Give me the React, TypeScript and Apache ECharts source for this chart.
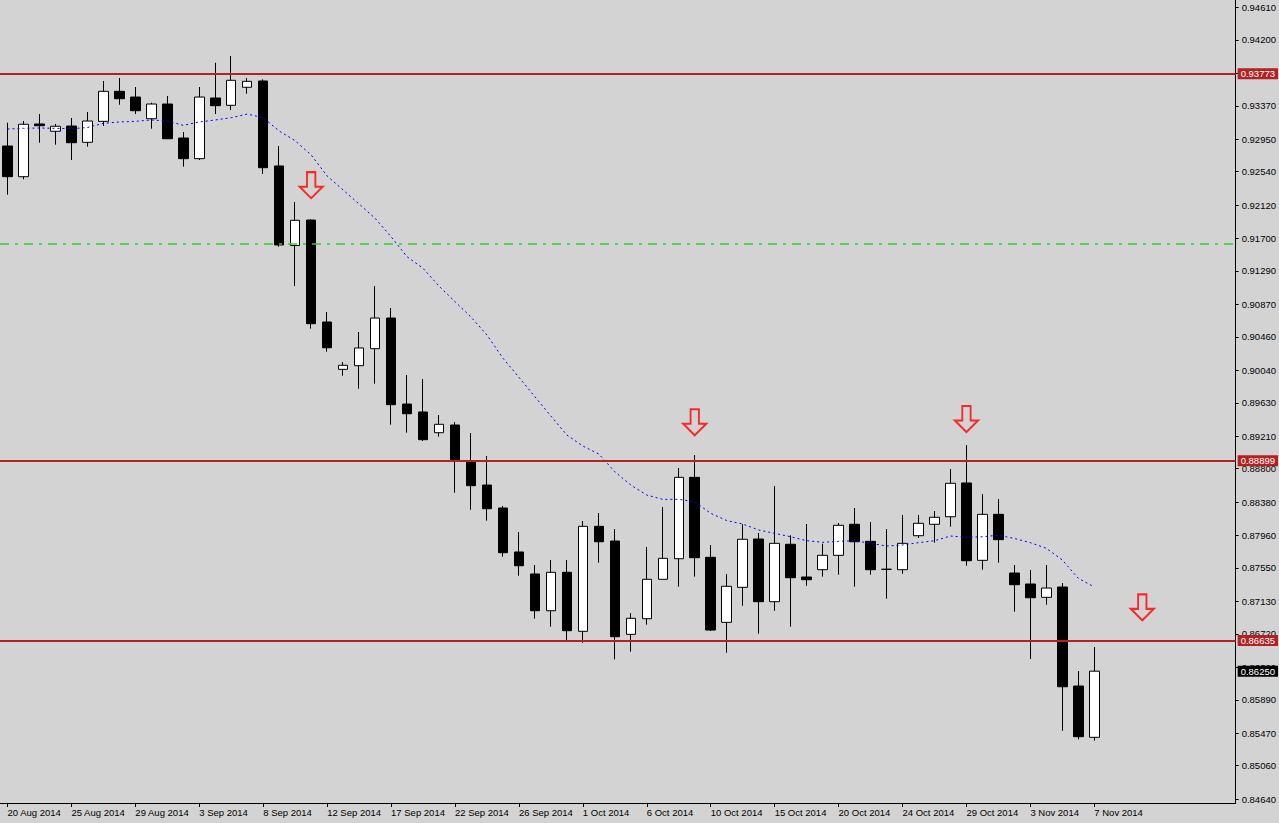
import React, { useEffect, useRef } from "react";
import * as echarts from "echarts";

const dates = [
  "20 Aug 2014","21 Aug 2014","22 Aug 2014","24 Aug 2014","25 Aug 2014","26 Aug 2014","27 Aug 2014","28 Aug 2014","29 Aug 2014","31 Aug 2014",
  "1 Sep 2014","2 Sep 2014","3 Sep 2014","4 Sep 2014","5 Sep 2014","7 Sep 2014","8 Sep 2014","9 Sep 2014","10 Sep 2014","11 Sep 2014",
  "12 Sep 2014","14 Sep 2014","15 Sep 2014","16 Sep 2014","17 Sep 2014","18 Sep 2014","19 Sep 2014","21 Sep 2014","22 Sep 2014","23 Sep 2014",
  "24 Sep 2014","25 Sep 2014","26 Sep 2014","28 Sep 2014","29 Sep 2014","30 Sep 2014","1 Oct 2014","2 Oct 2014","3 Oct 2014","5 Oct 2014",
  "6 Oct 2014","7 Oct 2014","8 Oct 2014","9 Oct 2014","10 Oct 2014","12 Oct 2014","13 Oct 2014","14 Oct 2014","15 Oct 2014","16 Oct 2014",
  "17 Oct 2014","19 Oct 2014","20 Oct 2014","21 Oct 2014","22 Oct 2014","23 Oct 2014","24 Oct 2014","26 Oct 2014","27 Oct 2014","28 Oct 2014",
  "29 Oct 2014","30 Oct 2014","31 Oct 2014","2 Nov 2014","3 Nov 2014","4 Nov 2014","5 Nov 2014","6 Nov 2014","7 Nov 2014",
];

const opens = [
  0.92863,0.92477,0.93141,0.93049,0.93115,0.92910,0.93174,0.93552,0.93480,0.93207,
  0.93392,0.92964,0.92704,0.93468,0.93376,0.93603,0.93682,0.92612,0.91610,0.91931,
  0.90647,0.90051,0.90097,0.90311,0.90697,0.89614,0.89514,0.89253,0.89350,0.88897,
  0.88594,0.88305,0.87751,0.87474,0.87011,0.87495,0.86752,0.88074,0.87889,0.86714,
  0.86911,0.87407,0.87666,0.88691,0.87684,0.86865,0.87306,0.87914,0.87125,0.87848,
  0.87436,0.87528,0.87709,0.88100,0.87885,0.87533,0.87528,0.87956,0.88100,0.88195,
  0.88620,0.87646,0.88225,0.87486,0.87348,0.87180,0.87310,0.86063,0.85417,
];

const closes = [
  0.92477,0.93137,0.93119,0.93112,0.92905,0.93178,0.93552,0.93459,0.93308,0.93392,
  0.92955,0.92704,0.93480,0.93371,0.93691,0.93678,0.92590,0.91617,0.91928,0.90626,
  0.90323,0.90102,0.90320,0.90697,0.89606,0.89492,0.89165,0.89359,0.88900,0.88586,
  0.88296,0.87742,0.87578,0.87011,0.87495,0.86760,0.88074,0.87880,0.86684,0.86916,
  0.87407,0.87671,0.88691,0.87679,0.86768,0.87319,0.87911,0.87125,0.87860,0.87427,
  0.87402,0.87709,0.88087,0.87880,0.87528,0.87533,0.87860,0.88112,0.88188,0.88616,
  0.87641,0.88225,0.87906,0.87339,0.87175,0.87297,0.86054,0.85425,0.86250,
];

const highs = [
  0.93157,0.93178,0.93266,0.93141,0.93216,0.93292,0.93682,0.93720,0.93606,0.93409,
  0.93493,0.93040,0.93606,0.93912,0.93997,0.93720,0.93703,0.92863,0.92158,0.91940,
  0.90773,0.90143,0.90521,0.91100,0.90823,0.89980,0.89929,0.89476,0.89388,0.89249,
  0.88960,0.88330,0.88002,0.87587,0.87650,0.87650,0.88141,0.88242,0.88040,0.86982,
  0.87814,0.88317,0.88808,0.88972,0.87839,0.87474,0.88100,0.87990,0.88582,0.87961,
  0.88103,0.87855,0.88116,0.88305,0.88128,0.88040,0.88217,0.88217,0.88267,0.88796,
  0.89098,0.88481,0.88418,0.87587,0.87524,0.87587,0.87360,0.86252,0.86554,
];

const lows = [
  0.92250,0.92444,0.92905,0.92880,0.92687,0.92855,0.93115,0.93383,0.93266,0.93081,
  0.92950,0.92603,0.92687,0.93266,0.93317,0.93522,0.92511,0.91595,0.91100,0.90563,
  0.90273,0.89971,0.89807,0.89870,0.89354,0.89253,0.89149,0.89203,0.88497,0.88283,
  0.88145,0.87691,0.87452,0.86911,0.86810,0.86634,0.86608,0.87616,0.86399,0.86495,
  0.86835,0.87407,0.87314,0.87440,0.86756,0.86483,0.87074,0.86722,0.87011,0.86810,
  0.87326,0.87440,0.87465,0.87314,0.87465,0.87163,0.87477,0.87927,0.87868,0.88069,
  0.87578,0.87528,0.87616,0.86999,0.86403,0.87087,0.85500,0.85392,0.85374,
];

const maValues = [
  0.93077,0.93086,0.93090,0.93086,0.93081,0.93096,0.93149,0.93166,0.93174,0.93191,
  0.93178,0.93124,0.93166,0.93191,0.93220,0.93266,0.93220,0.93052,0.92930,0.92750,
  0.92486,0.92309,0.92133,0.91953,0.91721,0.91469,0.91323,0.91100,0.90903,0.90710,
  0.90483,0.90190,0.89951,0.89706,0.89463,0.89224,0.89085,0.88985,0.88762,0.88594,
  0.88468,0.88414,0.88414,0.88384,0.88238,0.88147,0.88103,0.88028,0.87986,0.87943,
  0.87893,0.87873,0.87885,0.87893,0.87860,0.87826,0.87839,0.87868,0.87893,0.87952,
  0.87936,0.87943,0.87962,0.87921,0.87868,0.87797,0.87650,0.87419,0.87310,
];

const xTickIdx = [0, 4, 8, 12, 16, 20, 24, 28, 32, 36, 40, 44, 48, 52, 56, 60, 64, 68];

const yTicks = [
  0.94610,0.94200,0.93780,0.93370,0.92950,0.92540,0.92120,0.91700,0.91290,0.90870,
  0.90460,0.90040,0.89630,0.89210,0.88800,0.88380,0.87960,0.87550,0.87130,0.86720,
  0.86300,0.85890,0.85470,0.85060,0.84640,
];

const resistanceLevels = [0.93773, 0.88899, 0.86635];
const greenLevel = 0.91636;
const lastPrice = 0.8625;

const arrowIdx = [19, 43, 60, 71];
const arrowPrice = [0.9237, 0.89385, 0.89426, 0.87054];

const FONT = "'Liberation Sans', Arial, sans-serif";
const ARROW = "path://M7,0 L15,0 L15,14 L22,14 L11,25 L0,14 L7,14 Z";

export default function App() {
  const ref = useRef<HTMLDivElement>(null);
  useEffect(() => {
    document.body.style.margin = "0";
    document.body.style.background = "#D3D3D3";
    const chart = echarts.init(ref.current!, null, { renderer: "svg" });
    const candles = dates.map((_, i) => [i, opens[i], closes[i], lows[i], highs[i]]);
    const maData = maValues.map((v, i) => [i, v]);
    const arrows = arrowIdx.map((x, i) => [x, arrowPrice[i]]);
    const labelBase = { fontSize: 9.5, fontFamily: FONT };
    chart.setOption({
      animation: false,
      backgroundColor: "#D3D3D3",
      grid: { left: 0, top: 0, right: 42, bottom: 20 },
      xAxis: {
        type: "value",
        min: -0.46875,
        max: 76.84375,
        axisLine: { show: true, onZero: false, lineStyle: { color: "#000", width: 1 } },
        axisTick: { show: true, customValues: xTickIdx, length: 4, lineStyle: { color: "#000" } },
        axisLabel: {
          customValues: xTickIdx,
          formatter: (v: number) => dates[Math.round(v)] ?? "",
          align: "left",
          color: "#000",
          margin: 4,
          ...labelBase,
        },
        splitLine: { show: false },
      },
      yAxis: {
        type: "value",
        position: "right",
        min: 0.8459,
        max: 0.94702,
        axisLine: { show: true, onZero: false, lineStyle: { color: "#000", width: 1 } },
        axisTick: { show: true, customValues: yTicks, length: 3, lineStyle: { color: "#000" } },
        axisLabel: {
          customValues: yTicks,
          formatter: (v: number) => v.toFixed(5),
          color: "#000",
          margin: 6,
          ...labelBase,
        },
        splitLine: { show: false },
      },
      series: [
        {
          type: "line",
          data: maData,
          symbol: "none",
          silent: true,
          lineStyle: { color: "#0000FF", width: 1, type: [2, 3] },
          markLine: {
            silent: true,
            precision: 5,
            symbol: ["none", "none"],
            label: { show: false },
            lineStyle: { color: "#32CD32", width: 1.5, type: [9, 6, 3, 6], opacity: 1 },
            data: [{ yAxis: greenLevel }],
          },
        },
        {
          type: "candlestick",
          data: candles,
          encode: { x: 0, y: [1, 2, 3, 4] },
          barWidth: 10,
          silent: true,
          itemStyle: {
            color: "#FFFFFF",
            color0: "#000000",
            borderColor: "#000000",
            borderColor0: "#000000",
            borderWidth: 1,
          },
        },
        {
          type: "scatter",
          data: arrows,
          symbol: ARROW,
          symbolSize: [23, 26],
          silent: true,
          itemStyle: { color: "rgba(0,0,0,0)", borderColor: "#FF0000", borderWidth: 2 },
          markLine: {
            silent: true,
            precision: 5,
            symbol: ["none", "none"],
            data: [
              ...resistanceLevels.map((v) => ({
                yAxis: v,
                lineStyle: { color: "#B22222", width: 2, type: "solid" },
                label: {
                  show: true,
                  position: "end",
                  distance: 2,
                  formatter: v.toFixed(5),
                  backgroundColor: "#B22222",
                  color: "#FFFFFF",
                  padding: [1, 3, 0, 3],
                  ...labelBase,
                },
              })),
              {
                yAxis: lastPrice,
                lineStyle: { color: "rgba(0,0,0,0)", width: 1 },
                label: {
                  show: true,
                  position: "end",
                  distance: 2,
                  formatter: lastPrice.toFixed(5),
                  backgroundColor: "#000000",
                  color: "#FFFFFF",
                  padding: [1, 3, 0, 3],
                  ...labelBase,
                },
              },
            ],
          },
        },
      ],
    });
    return () => chart.dispose();
  }, []);
  return (
    <div
      ref={ref}
      style={{ position: "absolute", left: 0, top: 0, width: 1279, height: 823 }}
    />
  );
}
